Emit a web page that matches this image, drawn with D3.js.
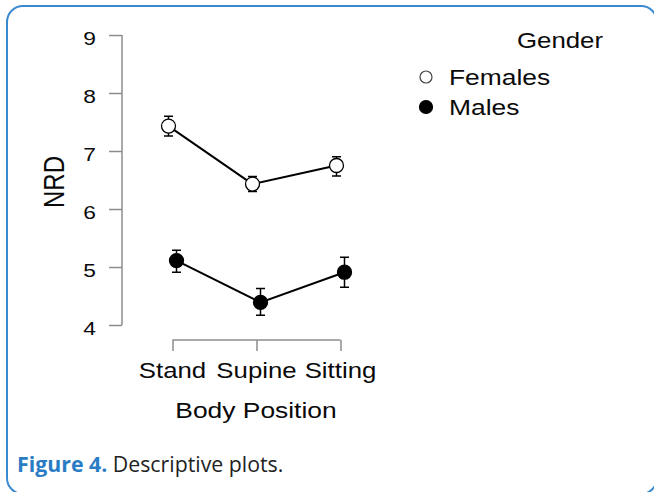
<!DOCTYPE html>
<html>
<head>
<meta charset="utf-8">
<script src="https://cdn.jsdelivr.net/npm/d3@7"></script>
<style>
  html, body { margin: 0; padding: 0; background: #fff; }
  svg { display: block; }
</style>
</head>
<body>
<svg id="chart" width="654" height="492"></svg>
<script>
// ---- data ----
const positions = ["Stand", "Supine", "Sitting"];
const femalesMean  = [7.43, 6.43, 6.75];
const femalesLower = [7.26, 6.30, 6.57];
const femalesUpper = [7.60, 6.56, 6.90];
const malesMean  = [5.11, 4.39, 4.91];
const malesLower = [4.91, 4.17, 4.65];
const malesUpper = [5.29, 4.63, 5.17];
const yTicks = [4, 5, 6, 7, 8, 9];
const seriesNames = ["Females", "Males"];

const series = [
  { name: seriesNames[0], mean: femalesMean, lo: femalesLower, hi: femalesUpper, fill: "#fff", dodge: -4 },
  { name: seriesNames[1], mean: malesMean, lo: malesLower, hi: malesUpper, fill: "#000", dodge: 4 }
];

const svg = d3.select("#chart");
const FONT = "'Liberation Sans', Arial, sans-serif";
const SX = 1.2; // horizontal stretch of text in the reference
const TXT = "#0a0a0a";

// border
svg.append("rect")
  .attr("x", 7).attr("y", 6).attr("width", 650).attr("height", 488)
  .attr("rx", 16).attr("ry", 16)
  .attr("fill", "none").attr("stroke", "#3a8ad0").attr("stroke-width", 2);

const y = d3.scaleLinear().domain([4, 9]).range([325, 35]);
const x = d3.scalePoint().domain(positions).range([172.5, 340.5]);

// y axis
const yAxis = svg.append("g").attr("transform", "translate(122,0)")
  .call(d3.axisLeft(y).tickValues(yTicks).tickSize(13).tickSizeOuter(0).tickFormat(""));
yAxis.selectAll("path, line").attr("stroke", "#8c8c8c").attr("stroke-width", 1.5);
yAxis.select(".domain").attr("d", `M0,${y(4)}V${y(9)}`);

svg.selectAll(".ylab").data(yTicks).join("text")
  .attr("class", "ylab")
  .attr("transform", d => `translate(96,${y(d) + 9.5}) scale(${SX},1)`)
  .attr("text-anchor", "end")
  .attr("font-family", FONT).attr("font-size", 19).attr("fill", TXT)
  .text(d => d);

// x axis
const xAxis = svg.append("g").attr("transform", "translate(0,340)")
  .call(d3.axisBottom(x).tickSize(11).tickSizeOuter(0).tickFormat(""));
xAxis.selectAll("path, line").attr("stroke", "#8c8c8c").attr("stroke-width", 1.5);
xAxis.select(".domain").attr("d", `M${x(positions[0])},0H${x(positions[2])}`);

svg.selectAll(".xlab").data(positions).join("text")
  .attr("class", "xlab")
  .attr("transform", d => `translate(${x(d)},378) scale(${SX},1)`)
  .attr("text-anchor", "middle")
  .attr("font-family", FONT).attr("font-size", 21.5).attr("fill", TXT)
  .text(d => d);

// axis titles
svg.append("text")
  .attr("transform", `translate(256,418) scale(${SX},1)`)
  .attr("text-anchor", "middle")
  .attr("font-family", FONT).attr("font-size", 22).attr("fill", TXT)
  .text("Body Position");

svg.append("text")
  .attr("transform", `translate(64,182) scale(${SX},1) rotate(-90)`)
  .attr("text-anchor", "middle")
  .attr("font-family", FONT).attr("font-size", 24).attr("fill", TXT)
  .text("NRD");

// series
const line = d3.line().x(d => d.x).y(d => d.y);
series.forEach(s => {
  const pts = positions.map((p, i) => ({ x: x(p) + s.dodge, y: y(s.mean[i]), lo: y(s.lo[i]), hi: y(s.hi[i]) }));
  const g = svg.append("g");
  g.append("path").attr("d", line(pts)).attr("fill", "none").attr("stroke", "#000").attr("stroke-width", 2);
  // error bars
  g.selectAll(".eb").data(pts).join("path")
    .attr("d", d => `M${d.x - 4.5},${d.hi}H${d.x + 4.5}M${d.x},${d.hi}V${d.lo}M${d.x - 4.5},${d.lo}H${d.x + 4.5}`)
    .attr("stroke", "#000").attr("stroke-width", 1.5).attr("fill", "none");
  g.selectAll("circle").data(pts).join("circle")
    .attr("cx", d => d.x).attr("cy", d => d.y).attr("r", 7)
    .attr("fill", s.fill).attr("stroke", "#000").attr("stroke-width", 1.3);
});

// legend
svg.append("text")
  .attr("transform", `translate(603,48) scale(${SX},1)`)
  .attr("text-anchor", "end")
  .attr("font-family", FONT).attr("font-size", 21.5).attr("fill", TXT)
  .text("Gender");

const leg = svg.selectAll(".leg").data(series).join("g")
  .attr("class", "leg")
  .attr("transform", (d, i) => `translate(0,${77 + i * 30})`);
leg.append("circle").attr("cx", 426).attr("cy", 0).attr("r", d => d.fill === "#fff" ? 6 : 6.5)
  .attr("fill", d => d.fill).attr("stroke", d => d.fill === "#fff" ? "#444" : "#000").attr("stroke-width", 1.2);
leg.append("text")
  .attr("transform", `translate(449,7.5) scale(${SX},1)`)
  .attr("font-family", FONT).attr("font-size", 22).attr("fill", TXT)
  .text(d => d.name);

// caption
const cap = svg.append("text").attr("x", 17).attr("y", 472)
  .attr("font-family", "'Open Sans', sans-serif").attr("font-size", 21.3);
cap.append("tspan").attr("font-weight", "bold").attr("fill", "#2a7cc4").text("Figure 4.");
cap.append("tspan").attr("fill", "#222").text(" Descriptive plots.");
</script>
</body>
</html>
